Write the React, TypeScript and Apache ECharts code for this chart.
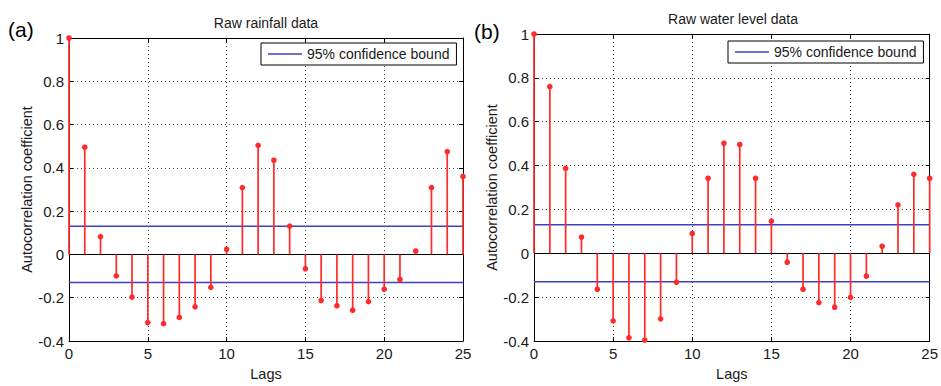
import React, { useEffect, useRef } from "react";
import * as echarts from "echarts";

const lags = [0, 1, 2, 3, 4, 5, 6, 7, 8, 9, 10, 11, 12, 13, 14, 15, 16, 17, 18, 19, 20, 21, 22, 23, 24, 25];
const rainfallAcf = [1, 0.495, 0.082, -0.099, -0.197, -0.315, -0.32, -0.291, -0.242, -0.152, 0.024, 0.309, 0.504, 0.435, 0.131, -0.066, -0.213, -0.237, -0.258, -0.218, -0.161, -0.116, 0.016, 0.309, 0.475, 0.36];
const waterLevelAcf = [1, 0.76, 0.387, 0.074, -0.164, -0.308, -0.385, -0.396, -0.299, -0.132, 0.09, 0.342, 0.502, 0.496, 0.342, 0.147, -0.041, -0.164, -0.225, -0.246, -0.201, -0.104, 0.032, 0.221, 0.36, 0.342];
const confidenceBound = 0.13;
const lagRange = [0, 25];
const yRange = [-0.4, 1];
const panelTitles = ["Raw rainfall data", "Raw water level data"];
const panelLetters = ["(a)", "(b)"];
const legendName = "95% confidence bound";

const FONT = 'Arial, "Liberation Sans", Helvetica, sans-serif';
const RED = "#ff2a2a";
const BLUE = "#3f3fc4";
const TEXT = "#1a1a1a";

export default function App() {
  const ref = useRef<HTMLDivElement>(null);

  useEffect(() => {
    document.body.style.margin = "0";
    if (!ref.current) return;
    const chart = echarts.init(ref.current, undefined, { renderer: "svg" });

    const grids = [
      { left: 69, top: 38, width: 394, height: 311 },
      { left: 534, top: 34, width: 399, height: 315 },
    ];

    const xAxes: any[] = [];
    const yAxes: any[] = [];
    grids.forEach((_, gi) => {
      xAxes.push({
        type: "value",
        gridIndex: gi,
        position: "bottom",
        min: lagRange[0],
        max: lagRange[1],
        interval: 5,
        name: "Lags",
        nameLocation: "middle",
        nameGap: 25,
        nameTextStyle: { color: TEXT, fontSize: 14.5, fontFamily: FONT },
        axisLine: { show: true, onZero: false, lineStyle: { color: "#000", width: 1 } },
        axisTick: { show: true, inside: true, length: 4, lineStyle: { color: "#000" } },
        axisLabel: { color: TEXT, fontSize: 15, fontFamily: FONT, margin: 5 },
        splitLine: { show: true, lineStyle: { color: "#444", type: [1, 3], width: 1 } },
      });
      xAxes.push({
        type: "value",
        gridIndex: gi,
        position: "top",
        min: lagRange[0],
        max: lagRange[1],
        interval: 5,
        axisLine: { show: true, onZero: false, lineStyle: { color: "#000", width: 1 } },
        axisTick: { show: true, inside: true, length: 4, lineStyle: { color: "#000" } },
        axisLabel: { show: false },
        splitLine: { show: false },
      });
      yAxes.push({
        type: "value",
        gridIndex: gi,
        position: "left",
        min: yRange[0],
        max: yRange[1],
        interval: 0.2,
        name: "Autocorrelation coefficient",
        nameLocation: "middle",
        nameGap: 30,
        nameTextStyle: { color: TEXT, fontSize: 14.5, fontFamily: FONT },
        axisLine: { show: true, onZero: false, lineStyle: { color: "#000", width: 1 } },
        axisTick: { show: true, inside: true, length: 4, lineStyle: { color: "#000" } },
        axisLabel: { color: TEXT, fontSize: 15, fontFamily: FONT, margin: 5 },
        splitLine: { show: true, lineStyle: { color: "#444", type: [1, 3], width: 1 } },
      });
      yAxes.push({
        type: "value",
        gridIndex: gi,
        position: "right",
        min: yRange[0],
        max: yRange[1],
        interval: 0.2,
        axisLine: { show: true, onZero: false, lineStyle: { color: "#000", width: 1 } },
        axisTick: { show: true, inside: true, length: 4, lineStyle: { color: "#000" } },
        axisLabel: { show: false },
        splitLine: { show: false },
      });
    });

    const stemSeries = (values: number[], axisIdx: number) => ({
      type: "custom",
      name: "acf" + axisIdx,
      xAxisIndex: axisIdx,
      yAxisIndex: axisIdx,
      clip: false,
      z: 5,
      data: lags.map((l, i) => [l, values[i]]),
      renderItem: (params: any, api: any) => {
        const x = api.value(0);
        const y = api.value(1);
        const p0 = api.coord([x, 0]);
        const p1 = api.coord([x, y]);
        return {
          type: "group",
          children: [
            {
              type: "line",
              shape: { x1: p0[0], y1: p0[1], x2: p1[0], y2: p1[1] },
              style: { stroke: RED, lineWidth: 1.7 },
            },
            {
              type: "circle",
              shape: { cx: p1[0], cy: p1[1], r: 2.8 },
              style: { fill: RED },
            },
          ],
        };
      },
      markLine: {
        silent: true,
        symbol: "none",
        label: { show: false },
        lineStyle: { color: "#000", type: "solid", width: 1 },
        data: [{ yAxis: 0 }],
      },
    });

    const boundSeries = (sign: number, axisIdx: number) => ({
      type: "line",
      name: legendName,
      xAxisIndex: axisIdx,
      yAxisIndex: axisIdx,
      symbol: "none",
      z: 3,
      lineStyle: { color: BLUE, width: 1.4 },
      itemStyle: { color: BLUE },
      data: lagRange.map((l) => [l, sign * confidenceBound]),
    });

    const legendCommon = {
      data: [legendName],
      orient: "horizontal",
      icon: "rect",
      itemWidth: 34,
      itemHeight: 1.5,
      padding: [4, 7, 4, 7],
      borderColor: "#000",
      borderWidth: 1,
      backgroundColor: "#fff",
      textStyle: { color: TEXT, fontSize: 14, fontFamily: FONT },
      selectedMode: false,
      z: 10,
    };

    const option: any = {
      animation: false,
      textStyle: { fontFamily: FONT },
      grid: grids,
      xAxis: xAxes,
      yAxis: yAxes,
      legend: [
        { ...legendCommon, left: 261, top: 43 },
        { ...legendCommon, left: 728, top: 41 },
      ],
      graphic: [
        {
          type: "text",
          x: 266,
          y: 23,
          style: { text: panelTitles[0], fill: TEXT, font: `14px ${FONT}`, textAlign: "center", textVerticalAlign: "middle" },
        },
        {
          type: "text",
          x: 733,
          y: 19,
          style: { text: panelTitles[1], fill: TEXT, font: `14px ${FONT}`, textAlign: "center", textVerticalAlign: "middle" },
        },
        {
          type: "text",
          x: 8,
          y: 29,
          style: { text: panelLetters[0], fill: "#000", font: `21px ${FONT}`, textAlign: "left", textVerticalAlign: "middle" },
        },
        {
          type: "text",
          x: 474,
          y: 31,
          style: { text: panelLetters[1], fill: "#000", font: `21px ${FONT}`, textAlign: "left", textVerticalAlign: "middle" },
        },
      ],
      series: [
        stemSeries(rainfallAcf, 0),
        boundSeries(1, 0),
        boundSeries(-1, 0),
        stemSeries(waterLevelAcf, 2),
        boundSeries(1, 2),
        boundSeries(-1, 2),
      ],
    };

    chart.setOption(option);
    return () => chart.dispose();
  }, []);

  return (
    <div
      ref={ref}
      style={{ position: "absolute", left: 0, top: 0, width: 941, height: 386, background: "#fff" }}
    />
  );
}
